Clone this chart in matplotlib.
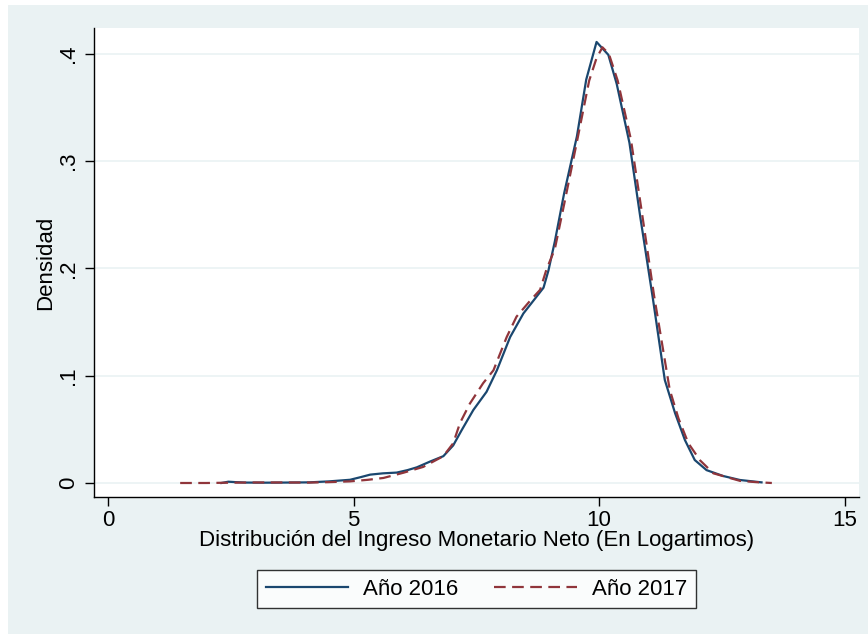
import matplotlib
matplotlib.use("Agg")
import matplotlib.pyplot as plt
from matplotlib.patches import Rectangle

plt.rcParams['font.family'] = ['Liberation Sans', 'DejaVu Sans']

x_2016 = [2.31, 2.45, 2.6, 2.8, 3.2, 3.6, 4.1, 4.5, 4.93, 5.15, 5.34, 5.6, 5.88, 6.1, 6.29,
          6.56, 6.83, 7.03, 7.2, 7.44, 7.71, 7.92, 8.19, 8.46, 8.7, 8.87, 8.97, 9.1, 9.29,
          9.55, 9.74, 9.95, 10.19, 10.36, 10.62, 10.84, 11.1, 11.34, 11.55, 11.75, 11.95,
          12.19, 12.53, 12.87, 13.31]
y_2016 = [0.0, 0.0012, 0.0008, 0.0004, 0.0003, 0.0004, 0.0006, 0.0015, 0.003, 0.0055, 0.0078,
          0.009, 0.0097, 0.012, 0.0146, 0.020, 0.025, 0.035, 0.049, 0.068, 0.085, 0.105, 0.136,
          0.158, 0.172, 0.182, 0.198, 0.225, 0.270, 0.323, 0.376, 0.411, 0.399, 0.372, 0.317,
          0.248, 0.171, 0.096, 0.065, 0.040, 0.0214, 0.012, 0.0065, 0.0028, 0.0006]

x_2017 = [1.47, 2.0, 2.5, 3.0, 3.5, 4.1, 4.5, 4.93, 5.3, 5.61, 6.02, 6.42, 6.83, 7.03, 7.17,
          7.37, 7.64, 7.85, 8.12, 8.32, 8.6, 8.80, 8.93, 9.1, 9.3, 9.55, 9.8, 9.95, 10.07,
          10.2, 10.38, 10.65, 10.88, 11.12, 11.44, 11.62, 11.82, 12.06, 12.33, 12.87, 13.2, 13.52]
y_2017 = [0.0, 0.0, 0.0003, 0.0005, 0.0005, 0.0004, 0.0008, 0.0015, 0.003, 0.0047, 0.0096,
          0.015, 0.025, 0.037, 0.056, 0.074, 0.093, 0.105, 0.136, 0.155, 0.170, 0.180, 0.199,
          0.218, 0.262, 0.318, 0.375, 0.396, 0.406, 0.400, 0.375, 0.320, 0.250, 0.175, 0.087,
          0.060, 0.037, 0.021, 0.009, 0.002, 0.0008, 0.0]

x_ticks = [0, 5, 10, 15]
y_ticks = [0, 0.1, 0.2, 0.3, 0.4]
y_tick_labels = ["0", ".1", ".2", ".3", ".4"]
series_labels = ["Año 2016", "Año 2017"]

W, H = 868, 634
FS = 16
fig = plt.figure(figsize=(W / 100, H / 100), dpi=100, facecolor="white")
bg = "#EAF2F3"
fig.patches.append(Rectangle((8 / W, 0), 1 - 8 / W, 1 - 5 / H, transform=fig.transFigure,
                             facecolor=bg, edgecolor="none", zorder=-10))

ax = fig.add_axes([94 / W, 1 - 497 / H, (859 - 94) / W, (497 - 28) / H])
ax.set_facecolor("white")

ax.plot(x_2016, y_2016, color="#1A476F", lw=1.6, label=series_labels[0], zorder=3)
ax.plot(x_2017, y_2017, color="#90353B", lw=1.6, dashes=(5.25, 2.9), label=series_labels[1], zorder=4)

ax.set_xlim(-0.285, 15.295)
ax.set_ylim(-0.01305, 0.424)

ax.set_xticks(x_ticks)
ax.set_yticks(y_ticks)
ax.set_yticklabels(y_tick_labels, rotation=90, va="center")
for y in y_ticks:
    ax.axhline(y, color=bg, lw=1.2, zorder=1)

for s in ["top", "right"]:
    ax.spines[s].set_visible(False)
for s in ["left", "bottom"]:
    ax.spines[s].set_color("black")
    ax.spines[s].set_linewidth(1.0)

ax.tick_params(axis="both", direction="out", length=6.5, width=1.0, color="black",
               labelsize=FS, labelcolor="black")
ax.tick_params(axis="x", pad=3)
ax.tick_params(axis="y", pad=4)

ax.set_xlabel("Distribución del Ingreso Monetario Neto (En Logartimos)", fontsize=FS, labelpad=-1)
ax.set_ylabel("Densidad", fontsize=FS, labelpad=1.5)

leg = ax.legend(loc="upper center", bbox_to_anchor=(0.5, -0.155), ncol=2, frameon=True,
                fancybox=False, edgecolor="black", fontsize=FS, handlelength=3.7,
                handletextpad=0.7, columnspacing=1.6, borderpad=0.4, borderaxespad=0)
leg.get_frame().set_linewidth(1.0)
leg.get_frame().set_facecolor("white")

fig.savefig("out.png", dpi=100, facecolor=fig.get_facecolor())
